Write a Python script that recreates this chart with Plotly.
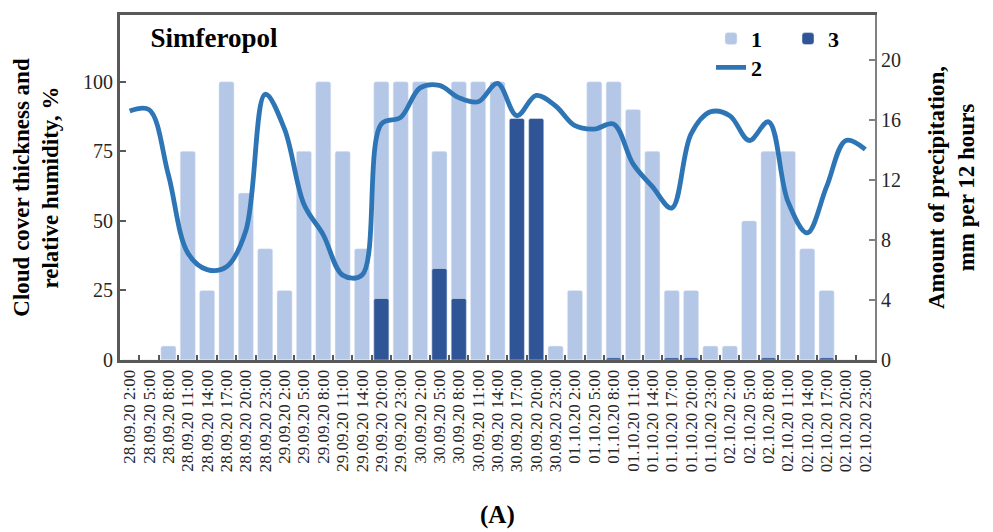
import plotly.graph_objects as go

# ---- data ----
days = ["28.09.20"] * 8 + ["29.09.20"] * 7 + ["30.09.20"] * 8 + ["01.10.20"] * 8 + ["02.10.20"] * 8
hours = (["2:00", "5:00", "8:00", "11:00", "14:00", "17:00", "20:00", "23:00"]
         + ["2:00", "5:00", "8:00", "11:00", "14:00", "20:00", "23:00"]
         + ["2:00", "5:00", "8:00", "11:00", "14:00", "17:00", "20:00", "23:00"] * 3)
categories = [f"{d} {h}" for d, h in zip(days, hours)]

cloud_cover = [0, 0, 5, 75, 25, 100, 60, 40,
               25, 75, 100, 75, 40, 100, 100,
               100, 75, 100, 100, 100, 0, 0, 5,
               25, 100, 100, 90, 75, 25, 25, 5,
               5, 50, 75, 75, 40, 25, 0, 0]

humidity = [89.5, 90, 66.5, 38.5, 32.5, 33.5, 46.5, 95.5,
            83, 56, 45, 30.5, 30.5, 84.8, 87.2,
            97.8, 98.7, 94.3, 92.8, 99.4, 87.8, 95.1, 91.3,
            84.2, 83, 84.8, 70.5, 62.3, 54.6, 81.3, 89.2,
            87.8, 78.9, 85.6, 57, 45.7, 62.3, 78.9, 75.7]

precipitation = [0, 0, 0, 0, 0, 0, 0, 0,
                 0, 0, 0, 0, 0, 4.1, 0,
                 0, 6.1, 4.1, 0, 0, 16.1, 16.1, 0,
                 0, 0, 0.15, 0, 0, 0.15, 0.15, 0,
                 0, 0, 0.15, 0, 0, 0.15, 0, 0]

left_ticks = [0, 25, 50, 75, 100]
right_ticks = [0, 4, 8, 12, 16, 20]

LIGHT = "#B4C7E7"
DARK = "#2F5597"
LINE = "#2E75B6"
AXIS = "#595959"
SERIF = "Liberation Serif"

fig = go.Figure()
fig.add_trace(go.Bar(x=categories, y=cloud_cover, name="1", marker=dict(color=LIGHT, cornerradius=2),
                     width=0.78, yaxis="y", legend="legend"))
fig.add_trace(go.Bar(x=categories, y=precipitation, name="3", marker=dict(color=DARK, cornerradius=2),
                     width=0.78, yaxis="y2", legend="legend"))
fig.add_trace(go.Scatter(x=categories, y=humidity, name="2", mode="lines",
                         line=dict(color=LINE, width=4.8, shape="spline", smoothing=1.0),
                         yaxis="y3", legend="legend2"))

LEG_X = (711 - 120) / 755

fig.update_layout(
    width=993, height=532,
    margin=dict(l=120, r=118, t=12, b=172),
    paper_bgcolor="white", plot_bgcolor="white",
    barmode="overlay",
    showlegend=True,
    title=dict(text="Simferopol", x=214 / 993, xanchor="center", y=1 - 38 / 532, yanchor="middle",
               xref="container", yref="container",
               font=dict(family=SERIF, size=27, color="black", weight="bold")),
    xaxis=dict(type="category", tickmode="linear", dtick=1, tickangle=-90, ticks="inside", ticklen=5,
               tickwidth=2, tickcolor=AXIS, tickson="boundaries", showline=True, linecolor=AXIS,
               linewidth=3, mirror=True, showgrid=False, zeroline=False,
               tickfont=dict(family=SERIF, size=17, color="#262626")),
    yaxis=dict(range=[0, 124], tickvals=left_ticks, ticks="inside", ticklen=6, tickwidth=2,
               tickcolor=AXIS, showline=True, linecolor=AXIS, linewidth=3, showgrid=False,
               zeroline=False, tickfont=dict(family=SERIF, size=20, color="#262626"),
               title=dict(text="Cloud cover thickness and<br>relative humidity, %", standoff=18,
                          font=dict(family=SERIF, size=23, color="black", weight="bold"))),
    yaxis2=dict(range=[0, 23], tickvals=right_ticks, overlaying="y", side="right", ticks="inside",
                ticklen=6, tickwidth=2, tickcolor="#808080", showline=True, linecolor="#808080",
                linewidth=2, showgrid=False, zeroline=False,
                tickfont=dict(family=SERIF, size=20, color="#262626"),
                title=dict(text="Amount of precipitation,<br>mm per 12 hours", standoff=28,
                           font=dict(family=SERIF, size=23, color="black", weight="bold"))),
    yaxis3=dict(range=[0, 124], overlaying="y", visible=False),
    legend=dict(orientation="h", x=LEG_X, xanchor="left", y=(360 - 36) / 348,
                yanchor="middle", entrywidth=32, entrywidthmode="pixels",
                bgcolor="rgba(0,0,0,0)", font=dict(family=SERIF, size=22, color="black", weight="bold")),
    legend2=dict(orientation="h", x=LEG_X, xanchor="left", y=(360 - 65) / 348,
                 yanchor="middle", bgcolor="rgba(0,0,0,0)",
                 font=dict(family=SERIF, size=22, color="black", weight="bold")),
    annotations=[dict(text="(A)", x=0.5, y=(360 - 516) / 348, xref="paper", yref="paper",
                      showarrow=False, yanchor="middle",
                      font=dict(family=SERIF, size=25, color="black", weight="bold"))],
)

fig.write_html("out.html")
